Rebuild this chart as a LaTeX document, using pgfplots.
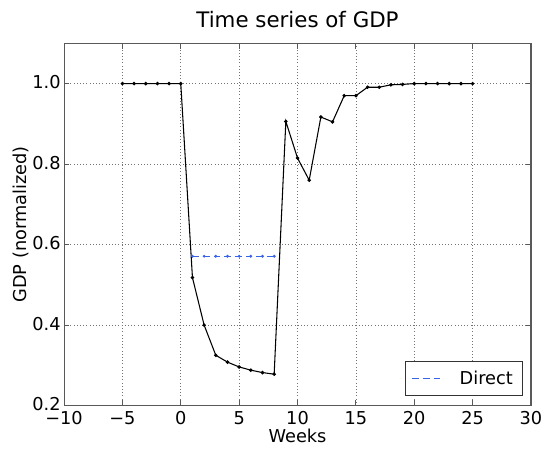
\documentclass[border=0pt]{standalone}
\usepackage{pgfplots}
\pgfplotsset{compat=1.18}
\usepackage{fontspec}
\setmainfont{DejaVu Sans}
\newcommand{\mn}{\char"2212\relax}
\begin{document}
\begin{tikzpicture}
\begin{axis}[
  scale only axis,
  width=350pt, height=271.5pt,
  xmin=-10, xmax=30, ymin=0.2, ymax=1.1,
  xtick={-10,-5,0,5,10,15,20,25,30},
  xticklabels={\mn10,\mn5,0,5,10,15,20,25,30},
  ytick={0.2,0.4,0.6,0.8,1.0},
  yticklabel style={xshift=1pt, yshift=1pt, /pgf/number format/.cd,fixed,fixed zerofill,precision=1},
  /pgf/number format/assume math mode=true,
  tick align=inside,
  xtick pos=both, ytick pos=both,
  major tick length=4pt,
  tick style={black!65, line width=0.6pt},
  grid=major,
  major grid style={black!55, dotted, line width=0.5pt},
  axis line style={black!65, line width=0.8pt},
  font=\fontsize{13.3pt}{16pt}\selectfont,
  xticklabel style={anchor=north, yshift=-1pt},
  title={Time series of GDP},
  title style={font=\fontsize{16pt}{19pt}\selectfont, yshift=2pt},
  xlabel={Weeks}, ylabel={GDP (normalized)},
  xlabel style={yshift=4pt},
  ylabel style={yshift=-4pt},
  legend style={draw=black!80, line width=0.6pt, font=\fontsize{13.3pt}{16pt}\selectfont, inner xsep=5pt, inner ysep=5pt, at={(0.982,0.026)}, anchor=south east},
  legend image code/.code={\draw[#1, mark=none] (0pt,0pt) -- (21pt,0pt);},
  legend cell align=left,
]
\addplot[black, line width=0.8pt, mark=*, mark size=0.9pt, forget plot] coordinates {
(-5,1.0) (-4,1.0) (-3,1.0) (-2,1.0) (-1,1.0) (0,1.0)
(1,0.518) (2,0.400) (3,0.325) (4,0.308) (5,0.296) (6,0.288) (7,0.282) (8,0.278)
(9,0.906) (10,0.815) (11,0.760) (12,0.917) (13,0.905) (14,0.970) (15,0.970)
(16,0.991) (17,0.991) (18,0.997) (19,0.998) (20,1.0) (21,1.0) (22,1.0) (23,1.0) (24,1.0) (25,1.0)
};
\addplot[color={rgb,255:red,55;green,100;blue,230}, line width=1pt, dash pattern=on 5pt off 3pt, mark=*, mark size=0.5pt, mark options={solid}] coordinates {
(1,0.571) (2,0.571) (3,0.571) (4,0.571) (5,0.571) (6,0.571) (7,0.571) (8,0.571)
};
\addlegendentry{\hspace{12pt}Direct}
\end{axis}
\pgfresetboundingbox
\path ([shift={(-48pt,-33pt)}]current axis.south west) rectangle ([shift={(12pt,32.5pt)}]current axis.north east);
\end{tikzpicture}
\end{document}
